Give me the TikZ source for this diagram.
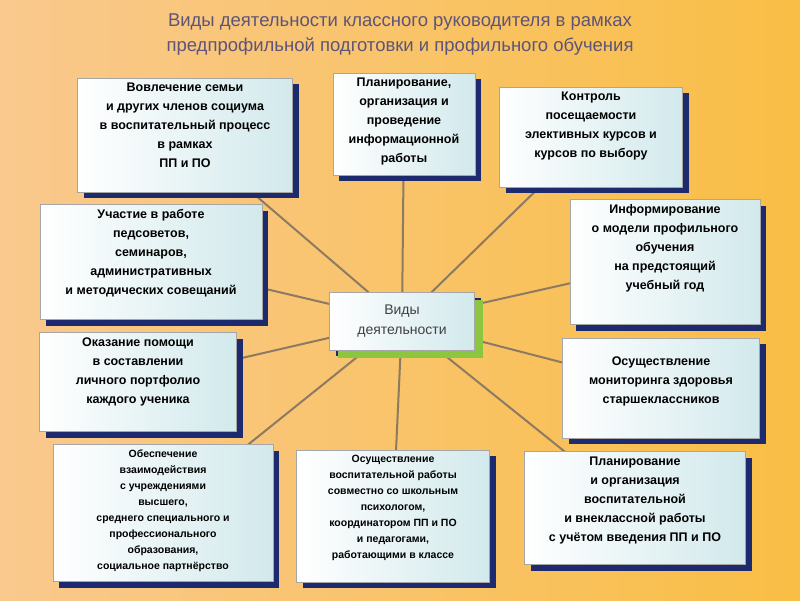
\documentclass[tikz,border=0pt]{standalone}
\usepackage{fontspec}
\setmainfont{Liberation Sans}
\usetikzlibrary{backgrounds,shadows}
\definecolor{navy}{HTML}{1E2A6E}
\definecolor{leaf}{HTML}{8CC63E}
\definecolor{spoke}{HTML}{8C7A62}
\definecolor{titlec}{HTML}{5E5478}
\definecolor{paleblue}{HTML}{D2E9EC}
\definecolor{peach}{HTML}{F9C98E}
\definecolor{amber}{HTML}{F9BE45}
\tikzset{
  box/.style={draw=gray!70, thick, align=center, font=\bfseries\fontsize{12.5}{19}\selectfont,
    left color=white, right color=paleblue, inner sep=0pt,
    drop shadow={fill=navy, opacity=1, shadow xshift=6pt, shadow yshift=-6pt}},
  smallbox/.style={box, font=\bfseries\fontsize{10.5}{16}\selectfont},
  hub/.style={box, font=\fontsize{14}{20}\selectfont,
    drop shadow={fill=leaf, opacity=1, shadow xshift=8pt, shadow yshift=-8pt}},
}
% width, height, text set from the top
\newcommand\toptext[3]{\parbox[c][#2pt][t]{#1pt}{\centering\vspace{5pt}#3}}
\begin{document}
\begin{tikzpicture}[x=1pt,y=1pt]
\useasboundingbox (0,0) rectangle (800,-600);

\node[box] (family) at (185,-135)
  {\toptext{215}{114}{Вовлечение семьи\\и других членов социума\\в воспитательный процесс\\в рамках\\ПП и ПО}};
\node[box] (plan) at (404,-124)
  {\toptext{142}{102}{Планирование,\\организация и\\проведение\\информационной\\работы}};
\node[box] (control) at (591,-137)
  {\toptext{183}{100}{Контроль\\посещаемости\\элективных курсов и\\курсов по выбору}};
\node[box] (inform) at (665,-262)
  {\toptext{190}{125}{Информирование\\о модели профильного\\обучения\\на предстоящий\\учебный год}};
\node[box] (council) at (151,-262)
  {\toptext{222}{115}{Участие в работе\\педсоветов,\\семинаров,\\административных\\и методических совещаний}};
\node[box] (help) at (138,-382)
  {\toptext{197}{99}{Оказание помощи\\в составлении\\личного портфолио\\каждого ученика}};
\node[box] (health) at (661,-388)
  {\toptext{197}{100}{\vspace{14pt}Осуществление\\мониторинга здоровья\\старшеклассников}};
\node[smallbox] (links) at (163,-513)
  {\toptext{220}{137}{Обеспечение\\взаимодействия\\с учреждениями\\высшего,\\среднего специального и\\профессионального\\образования,\\социальное партнёрство}};
\node[smallbox] (psych) at (393,-516)
  {\toptext{193}{132}{Осуществление\\воспитательной работы\\совместно со школьным\\психологом,\\координатором ПП и ПО\\и педагогами,\\работающими в классе}};
\node[box] (extra) at (635,-508)
  {\toptext{221}{113}{Планирование\\и организация\\воспитательной\\и внеклассной работы\\с учётом введения ПП и ПО}};
\node[hub, minimum width=145, minimum height=58] (kinds) at (402,-321)
  {\color{black!75}Виды\\\color{black!75}деятельности};

\node[font=\fontsize{18.5}{25}\selectfont, text=titlec, align=center] (title) at (400,-35)
  {Виды деятельности классного руководителя в рамках\\предпрофильной подготовки и профильного обучения};

\begin{pgfonlayer}{background}
  \shade[left color=peach, right color=amber] (0,0) rectangle (800,-600);
  \foreach \target in {family,plan,control,inform,council,help,health,links,psych,extra}
    \draw[spoke, line width=2pt] (kinds.center) -- (\target.center);
\end{pgfonlayer}
\end{tikzpicture}
\end{document}
